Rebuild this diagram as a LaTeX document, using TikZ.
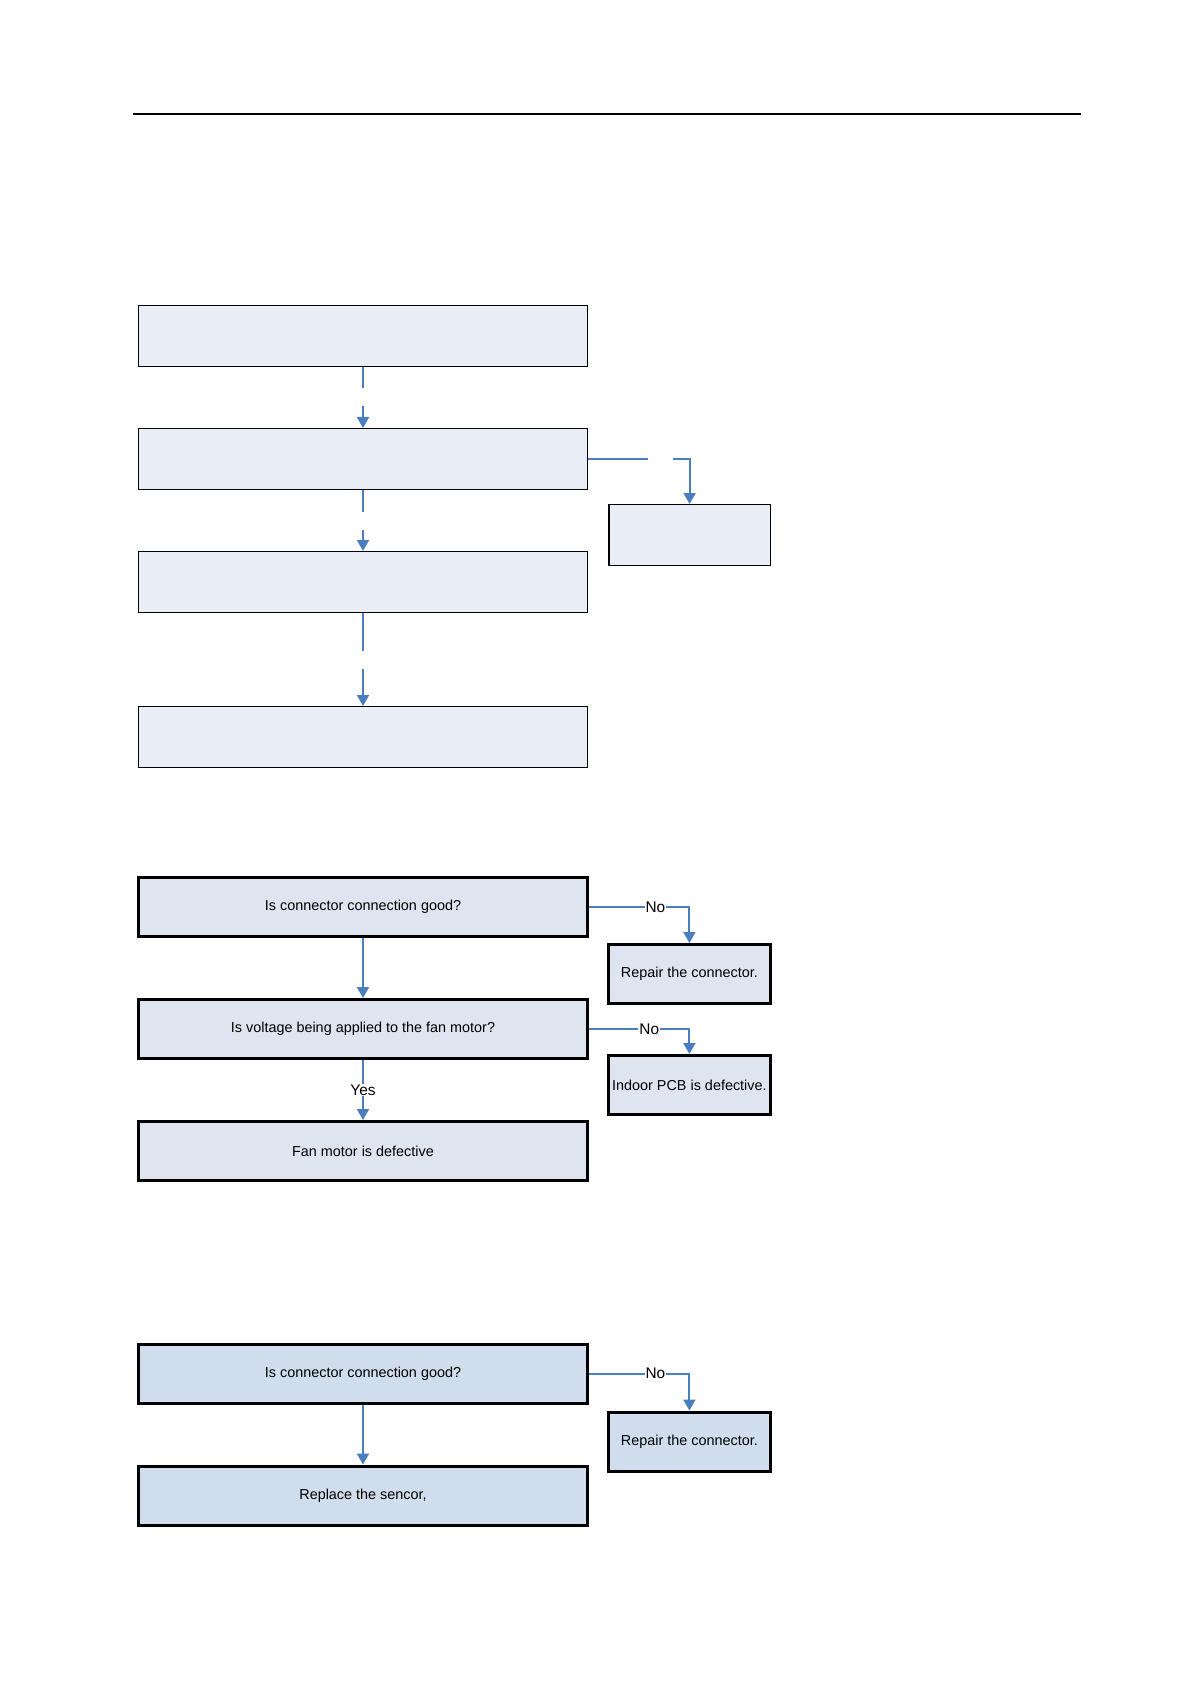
\documentclass[tikz,border=0pt]{standalone}
\usepackage{fontspec}
\setmainfont{Liberation Sans}
\usepackage{tikz}
\usetikzlibrary{positioning, arrows.meta}

\definecolor{flowblue}{HTML}{4A7EBF}
\definecolor{paleblue}{HTML}{E9EDF6}
\definecolor{midblue}{HTML}{DEE5F0}
\definecolor{deepblue}{HTML}{D0DDEC}

\begin{document}
\begin{tikzpicture}[x=0.5pt, y=-0.5pt,
font=\fontsize{7.2pt}{8.6pt}\selectfont,
emptybox/.style={rectangle, draw=black, fill=paleblue, line width=0.6pt, minimum height=30.4pt},
questionbox/.style={rectangle, draw=black, fill=midblue, line width=1.5pt, minimum height=29.5pt},
sensorbox/.style={rectangle, draw=black, fill=deepblue, line width=1.5pt, minimum height=29.5pt},
widebox/.style={minimum width=224.7pt},
narrowbox/.style={minimum width=80.7pt, inner sep=1pt},
flow/.style={draw=flowblue, line width=1pt, -{Triangle[width=6pt, length=5.5pt]}},
gapmark/.style={fill=white, minimum width=12.5pt, minimum height=9pt, inner sep=0pt},
answer/.style={fill=white, inner sep=0.5pt, font=\fontsize{7.7pt}{9pt}\selectfont},
]
    \useasboundingbox (0,0) rectangle (1190,1684);
    \draw[line width=1pt] (133,114) -- (1081,114);

    % first chart, no texts
    \node[emptybox, widebox]        (check1) at (363,336)                                  {};
    \node[emptybox, widebox]        (check2)       [below=30.5pt of check1]                {};
    \node[emptybox, widebox]        (check3)       [below=30.5pt of check2]                {};
    \node[emptybox, widebox]        (check4)       [below=46.5pt of check3]                {};
    \node[emptybox, narrowbox]      (side1)        [below right=7pt and 10pt of check2]    {};

    \draw[flow] (check1) -- node[gapmark]{} (check2);
    \draw[flow] (check2) -- node[gapmark]{} (check3);
    \draw[flow] (check3) -- node[gapmark]{} (check4);
    \draw[flow] (check2.east) -| node[gapmark, pos=0.355]{} (side1.north);

    % fan motor
    \node[questionbox, widebox]     (connector) at (363,907)                               {Is connector connection good?};
    \node[questionbox, widebox]     (voltage)      [below=30pt of connector]               {Is voltage being applied to the fan motor?};
    \node[questionbox, widebox]     (fanmotor)     [below=30pt of voltage]                 {Fan motor is defective};
    \node[questionbox, narrowbox]   (repair1)      [below right=2.5pt and 9pt of connector] {Repair the connector.};
    \node[questionbox, narrowbox]   (indoorpcb)    [below=24.5pt of repair1]               {Indoor PCB is defective.};

    \draw[flow] (connector) -- (voltage);
    \draw[flow] (connector.east) -| node[answer, pos=0.33]{No} (repair1.north);
    \draw[flow] (voltage.east) -| node[answer, pos=0.3]{No} (indoorpcb.north);
    \draw[flow] (voltage) -- node[answer]{Yes} (fanmotor);

    % sensor
    \node[sensorbox, widebox]       (connector2) at (363,1373.5)                           {Is connector connection good?};
    \node[sensorbox, widebox]       (sensor)       [below=30pt of connector2]              {Replace the sencor,};
    \node[sensorbox, narrowbox]     (repair2)      [below right=3pt and 9pt of connector2] {Repair the connector.};

    \draw[flow] (connector2) -- (sensor);
    \draw[flow] (connector2.east) -| node[answer, pos=0.33]{No} (repair2.north);
\end{tikzpicture}
\end{document}
